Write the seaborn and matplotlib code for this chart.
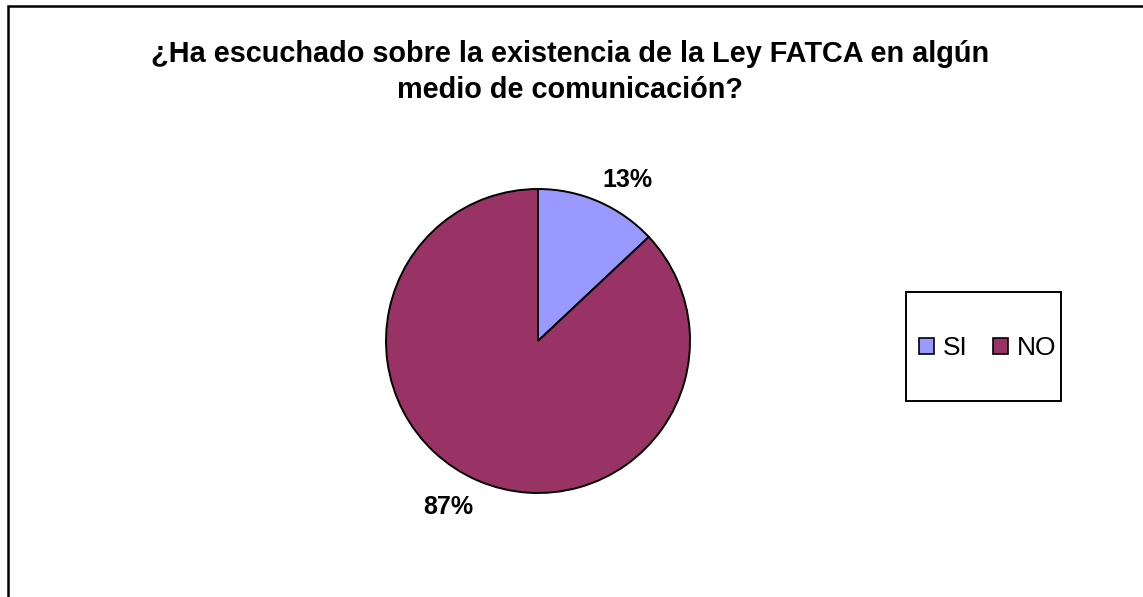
import matplotlib
matplotlib.use("Agg")
import numpy as np
import matplotlib.pyplot as plt
import matplotlib.patches as mpatches
import seaborn as sns

categories = ["SI", "NO"]
values = [13, 87]
pct_labels = ["13%", "87%"]
colors = ["#9999FF", "#993366"]
title = "¿Ha escuchado sobre la existencia de la Ley FATCA en algún\nmedio de comunicación?"

sns.set_theme(style="white")
plt.rcParams["font.family"] = ["Liberation Sans", "DejaVu Sans"]
plt.rcParams["text.color"] = "black"

W, H = 1143, 597
fig = plt.figure(figsize=(W / 100, H / 100), dpi=100)
fig.patch.set_facecolor("white")

# outer chart border
fig.add_artist(mpatches.Rectangle((8 / W, (H - 620) / H), (1160 - 8) / W, (620 - 5.5) / H,
                                  transform=fig.transFigure, fill=False,
                                  edgecolor="black", linewidth=1.8))

cx, cy, R, half = 538, 341, 152, 200
ax = fig.add_axes([(cx - half) / W, (H - cy - half) / H, 2 * half / W, 2 * half / H])
L = half / R
wedges, texts = ax.pie(values, colors=colors, startangle=90, counterclock=False,
                       labels=pct_labels, labeldistance=1.23,
                       wedgeprops=dict(edgecolor="black", linewidth=1.4),
                       textprops=dict(fontsize=18, fontweight="bold", color="black",
                                      ha="center", va="center_baseline"))
# Excel-style label placement: slightly rotated clockwise from wedge middle
for w, t in zip(wedges, texts):
    ang = np.deg2rad((w.theta1 + w.theta2) / 2 - 5.3)
    t.set_position((1.23 * np.cos(ang), 1.23 * np.sin(ang)))
ax.set_xlim(-L, L)
ax.set_ylim(-L, L)
ax.set_aspect("equal")
ax.axis("off")

# legend box
lx0, ly0, lx1, ly1 = 906, 292, 1061, 401
fig.add_artist(mpatches.Rectangle((lx0 / W, (H - ly1) / H), (lx1 - lx0) / W, (ly1 - ly0) / H,
                                  transform=fig.transFigure, fill=False,
                                  edgecolor="black", linewidth=1.4))
handles = [mpatches.Patch(facecolor=c, edgecolor="black", linewidth=1.2) for c in colors]
fig.legend(handles, categories, loc="center", bbox_to_anchor=(988 / W, (H - 348) / H),
           ncol=2, frameon=False, fontsize=19, handlelength=0.57, handleheight=0.57,
           handletextpad=0.34, columnspacing=0.95, borderpad=0, borderaxespad=0)

fig.text(570 / W, (H - 72) / H, title, ha="center", va="center", fontsize=20.8,
         fontweight="bold", linespacing=1.32)

fig.savefig("out.png", dpi=100)
